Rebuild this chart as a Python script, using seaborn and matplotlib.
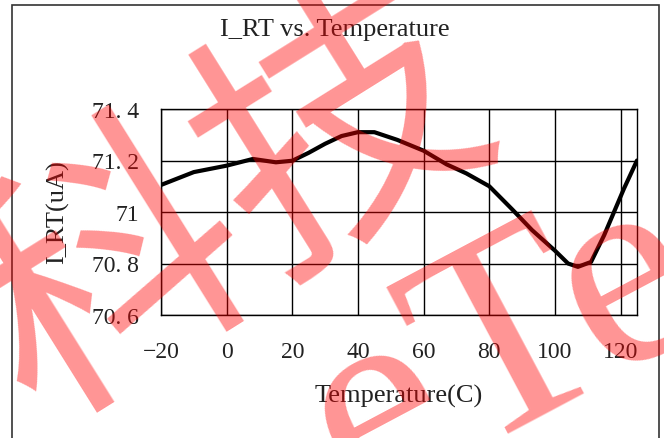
import numpy as np
import pandas as pd
import matplotlib
matplotlib.use("Agg")
import matplotlib.pyplot as plt
import seaborn as sb

# values
temps = [-20, -10, 0, 8, 15, 20, 25, 30, 35, 40, 45, 52, 60, 67, 73, 80,
         87, 93, 100, 104, 107, 111, 115, 118, 121, 125]
i_rt = [71.105, 71.155, 71.18, 71.206, 71.193, 71.199, 71.23, 71.265, 71.295,
        71.31, 71.31, 71.28, 71.238, 71.185, 71.15, 71.10, 71.01, 70.93,
        70.85, 70.80, 70.787, 70.806, 70.91, 71.0, 71.09, 71.2]

x_ticks = [-20, 0, 20, 40, 60, 80, 100, 120]
y_ticks = [70.6, 70.8, 71.0, 71.2, 71.4]
y_ticklabels = ["70. 6", "70. 8", "71", "71. 2", "71. 4"]

title = "I_RT vs. Temperature"
xlab = "Temperature(C)"
ylab = "I_RT(uA)"

df = pd.DataFrame({"Temperature": temps, "I_RT": i_rt})

sb.set_style("white")
plt.rcParams['font.family'] = ['Liberation Serif', 'DejaVu Serif']

W, H = 664, 439
fig = plt.figure(figsize=(W / 100, H / 100), dpi=100)
ax = fig.add_axes([161 / W, 1 - 316 / H, (637 - 161) / W, (316 - 110) / H])

sb.lineplot(data=df, x="Temperature", y="I_RT", color="black", lw=3.0, ax=ax)

ax.set_xlim(-20, 125)
ax.set_ylim(70.6, 71.4)
ax.set_xticks(x_ticks)
ax.set_yticks(y_ticks)
ax.set_yticklabels(y_ticklabels)
ax.set_xlabel("")
ax.set_ylabel("")
ax.grid(True, color="black", lw=1.0)
for s in ax.spines.values():
    s.set_color("black")
    s.set_linewidth(1.0)
ax.tick_params(axis="both", length=0, labelsize=17, colors="#222222")
ax.tick_params(axis="x", pad=19)
ax.tick_params(axis="y", pad=16)

fig.text(335 / W, 1 - 30 / H, title, ha="center", va="center", fontsize=19, color="#222222")
fig.text(399 / W, 1 - 396 / H, xlab, ha="center", va="center", fontsize=19, color="#222222")
fig.text(58 / W, 1 - 212 / H, ylab, ha="center", va="center", rotation=90, fontsize=19, color="#222222")

# outer frame (bottom edge is cut off in the reference)
fig.add_artist(plt.Rectangle((12 / W, -0.1), (659 - 12) / W, 1 - 6 / H + 0.1,
                             transform=fig.transFigure, fill=False, ec="#333333", lw=1.2))

# red watermark, runs off the image edges like in the reference
fig.text(228 / W, 1 - 208 / H, "科技", ha="center", va="center", rotation=32,
         rotation_mode="anchor", fontsize=200, color="red", alpha=0.42,
         family=["Noto Sans CJK SC"])
fig.text(505 / W, 1 - 352 / H, "eTe", ha="center", va="center", rotation=28,
         rotation_mode="anchor", fontsize=205, color="red", alpha=0.42)

plt.savefig("out.png", dpi=100)
